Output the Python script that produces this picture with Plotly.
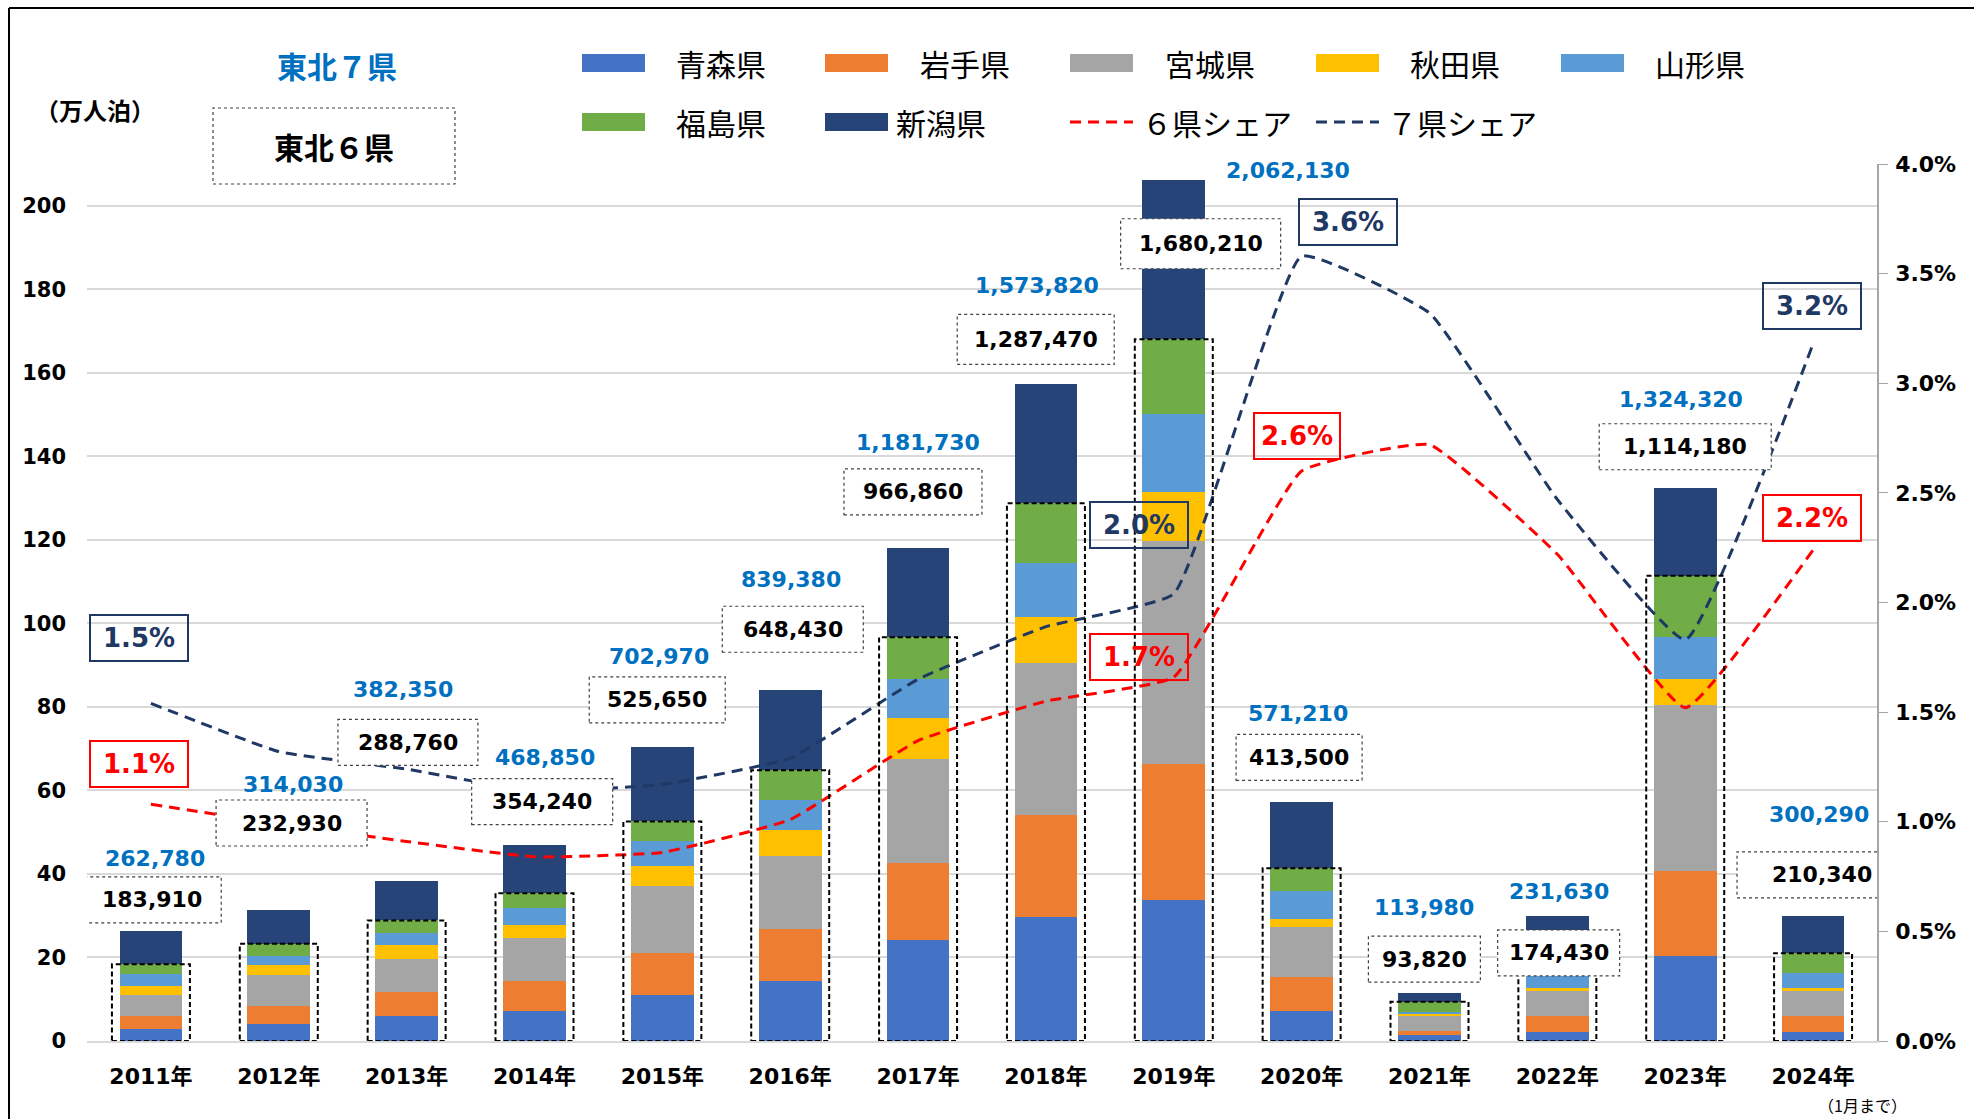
import plotly.graph_objects as go

# ---------------- data ----------------
years = ["2011年", "2012年", "2013年", "2014年", "2015年", "2016年", "2017年",
         "2018年", "2019年", "2020年", "2021年", "2022年", "2023年", "2024年"]

# 万人泊 by prefecture
aomori    = [2.9, 4.0, 6.0, 7.2, 11.1, 14.4, 24.3, 29.6, 33.8, 7.2, 1.35, 2.2, 20.3, 2.2]
iwate     = [3.2, 4.4, 5.7, 7.1, 9.9, 12.4, 18.3, 24.6, 32.5, 8.2, 0.95, 3.8, 20.3, 3.8]
miyagi    = [4.8, 7.4, 8.0, 10.4, 16.0, 17.6, 24.9, 36.4, 53.4, 11.9, 3.7, 6.0, 39.9, 6.0]
akita     = [2.2, 2.4, 3.2, 3.1, 5.0, 6.2, 9.8, 11.0, 11.8, 2.0, 0.4, 0.6, 6.2, 0.6]
yamagata  = [3.0, 2.2, 3.0, 4.0, 6.0, 7.1, 9.4, 12.9, 18.6, 6.7, 0.6, 3.6, 10.1, 3.7]
fukushima = [2.29, 2.9, 2.98, 3.6, 4.57, 7.14, 9.99, 14.25, 17.92, 5.35, 2.38, 1.24, 14.62, 4.73]
niigata   = [7.89, 8.1, 9.36, 11.46, 17.73, 19.1, 21.48, 28.64, 38.19, 15.77, 2.02, 12.46, 21.01, 9.0]

# labelled totals (人泊)
total7 = [262780, 314030, 382350, 468850, 702970, 839380, 1181730, 1573820,
          2062130, 571210, 113980, 231630, 1324320, 300290]
total6 = [183910, 232930, 288760, 354240, 525650, 648430, 966860, 1287470,
          1680210, 413500, 93820, 174430, 1114180, 210340]

# shares (%)
share6 = [1.08, 0.99, 0.91, 0.84, 0.86, 1.01, 1.37, 1.55, 1.66, 2.60, 2.72, 2.22, 1.52, 2.24]
share7 = [1.54, 1.32, 1.24, 1.14, 1.17, 1.29, 1.65, 1.89, 2.04, 3.58, 3.32, 2.47, 1.83, 3.18]

pref_names = ["青森県", "岩手県", "宮城県", "秋田県", "山形県", "福島県", "新潟県"]

# ---------------- styles / label placement ----------------
pref_colors = ["#4472C4", "#ED7D31", "#A5A5A5", "#FFC000", "#5B9BD5", "#70AD47", "#264478"]
NAVY = "#1F3864"
RED = "#FF0000"
BLUE_TXT = "#0070C0"
NUMFONT = "DejaVu Sans, Noto Sans CJK JP"
CJKFONT = "Noto Sans CJK JP, DejaVu Sans"

lab7_dx = [0.03, 0.11, -0.03, 0.08, -0.03, 0.01, 0.0, -0.07, 0.89, -0.03, -0.04, 0.01, -0.03, 0.05]
lab7_y = [43.7, 61.5, 84.1, 67.8, 92.0, 110.4, 143.2, 181.0, 208.4, 78.4, 32.0, 35.9, 153.5, 54.3]
lab6_dx = [0.01, 0.10, 0.01, 0.06, -0.04, 0.02, -0.04, -0.08, 0.21, -0.02, -0.04, 0.01, 0.0, 0.07]
lab6_y = [33.8, 52.2, 71.5, 57.3, 81.7, 98.6, 131.5, 168.0, 190.9, 67.9, 19.6, 21.1, 142.3, 39.8]
lab6_w = [138, 151, 140, 141, 136, 141, 138, 157, 160, 126, 112, 122, 172, 170]
lab6_h = [46, 46, 46, 46, 46, 46, 46, 50, 50, 46, 46, 46, 46, 46]

share_lab_idx = [0, 8, 9, 13]
share7_lab_dx = [-0.09, -0.27, 0.36, -0.01]
share7_lab_y = [0.01837, 0.02353, 0.03736, 0.03352]
share6_lab_dx = [-0.09, -0.27, -0.04, -0.01]
share6_lab_y = [0.01263, 0.01750, 0.02760, 0.02387]
share6_lab_w = [96, 96, 84, 96]

W, H = 1974, 1119
L, R, T, B = 87, 97, 164, 78
PW, PH = W - L - R, H - T - B


def xp(px):
    return (px - L) / PW


def yp(py):
    return (H - B - py) / PH


fig = go.Figure()

series = [aomori, iwate, miyagi, akita, yamagata, fukushima, niigata]
for name, vals, col in zip(pref_names, series, pref_colors):
    fig.add_trace(go.Bar(x=years, y=vals, name=name, marker=dict(color=col, line=dict(width=0)),
                         width=0.49, showlegend=False))

fig.add_trace(go.Scatter(x=years, y=[v / 100 for v in share6], yaxis="y2", mode="lines",
                         line=dict(color=RED, width=3, dash="11px,7px", shape="spline", smoothing=0.35),
                         name="６県シェア", showlegend=False))
fig.add_trace(go.Scatter(x=years, y=[v / 100 for v in share7], yaxis="y2", mode="lines",
                         line=dict(color=NAVY, width=3, dash="11px,7px", shape="spline", smoothing=0.35),
                         name="７県シェア", showlegend=False))

shapes = []
annotations = []

# dashed outline of 6-prefecture portion
six_sum = [a + b + c + d + e + f for a, b, c, d, e, f in zip(aomori, iwate, miyagi, akita, yamagata, fukushima)]
for i, s in enumerate(six_sum):
    shapes.append(dict(type="rect", xref="x", yref="y", x0=i - 0.305, x1=i + 0.305, y0=0, y1=s,
                       line=dict(color="black", width=2, dash="5px,3px"), fillcolor="rgba(0,0,0,0)",
                       layer="above"))

# boxed 6-pref labels
for i, v in enumerate(total6):
    cx = i + lab6_dx[i]
    shapes.append(dict(type="rect", xref="x", yref="y", xsizemode="pixel", ysizemode="pixel",
                       xanchor=cx, yanchor=lab6_y[i], x0=-lab6_w[i] / 2, x1=lab6_w[i] / 2,
                       y0=-lab6_h[i] / 2, y1=lab6_h[i] / 2, fillcolor="white",
                       line=dict(color="#404040", width=1.2, dash="dot"), layer="above"))
    annotations.append(dict(x=cx, y=lab6_y[i], xref="x", yref="y", text=f"{v:,}", showarrow=False,
                            xanchor="center", yanchor="middle",
                            font=dict(family=NUMFONT, size=22, color="black", weight="bold")))

# blue 7-pref totals
for i, v in enumerate(total7):
    annotations.append(dict(x=i + lab7_dx[i], y=lab7_y[i], xref="x", yref="y", text=f"{v:,}",
                            showarrow=False, xanchor="center", yanchor="middle",
                            font=dict(family=NUMFONT, size=22, color=BLUE_TXT, weight="bold")))

# share labels
for k, i in enumerate(share_lab_idx):
    annotations.append(dict(x=i + share7_lab_dx[k], y=share7_lab_y[k], xref="x", yref="y2",
                            text=f"{share7[i]:.1f}%", showarrow=False, bordercolor=NAVY, borderwidth=2,
                            borderpad=2, width=92, height=40, xanchor="center", yanchor="middle",
                            font=dict(family=NUMFONT, size=26, color=NAVY, weight="bold")))
    annotations.append(dict(x=i + share6_lab_dx[k], y=share6_lab_y[k], xref="x", yref="y2",
                            text=f"{share6[i]:.1f}%", showarrow=False, bordercolor=RED, borderwidth=2,
                            borderpad=2, width=share6_lab_w[k] - 4, height=40,
                            xanchor="center", yanchor="middle",
                            font=dict(family=NUMFONT, size=26, color=RED, weight="bold")))


def paper_text(px, py, text, size, color="black", bold=True, xanchor="center"):
    annotations.append(dict(x=xp(px), y=yp(py), xref="paper", yref="paper", text=text,
                            showarrow=False, xanchor=xanchor, yanchor="middle",
                            font=dict(family=CJKFONT, size=size, color=color,
                                      weight="bold" if bold else "normal")))


# titles
paper_text(337, 65, "東北７県", 30, BLUE_TXT)
shapes.append(dict(type="rect", xref="paper", yref="paper", x0=xp(213), x1=xp(455), y0=yp(184), y1=yp(108),
                   line=dict(color="#404040", width=1.2, dash="dot"), fillcolor="white"))
paper_text(334, 146, "東北６県", 30)
paper_text(95, 109, "（万人泊）", 24)
paper_text(1862, 1105, "（1月まで）", 16, bold=False)

# legend (manual)
leg_rows = [63, 122]
leg_items = [
    ("rect", pref_colors[0], pref_names[0], 0, 582, 674),
    ("rect", pref_colors[1], pref_names[1], 0, 825, 918),
    ("rect", pref_colors[2], pref_names[2], 0, 1070, 1163),
    ("rect", pref_colors[3], pref_names[3], 0, 1316, 1408),
    ("rect", pref_colors[4], pref_names[4], 0, 1561, 1653),
    ("rect", pref_colors[5], pref_names[5], 1, 582, 674),
    ("rect", pref_colors[6], pref_names[6], 1, 825, 894),
    ("line", RED, "６県シェア", 1, 1070, 1140),
    ("line", NAVY, "７県シェア", 1, 1316, 1385),
]
for kind, col, label, row, sx, tx in leg_items:
    yc = leg_rows[row]
    if kind == "rect":
        shapes.append(dict(type="rect", xref="paper", yref="paper", x0=xp(sx), x1=xp(sx + 63),
                           y0=yp(yc + 9), y1=yp(yc - 9), fillcolor=col, line=dict(width=0)))
    else:
        shapes.append(dict(type="line", xref="paper", yref="paper", x0=xp(sx), x1=xp(sx + 63),
                           y0=yp(yc), y1=yp(yc), line=dict(color=col, width=3, dash="11px,7px")))
    paper_text(tx, yc, label, 30, bold=False, xanchor="left")

# outer frame (top and left border)
shapes.append(dict(type="line", xref="paper", yref="paper", x0=xp(9), x1=xp(W + 5), y0=yp(8), y1=yp(8),
                   line=dict(color="black", width=2)))
shapes.append(dict(type="line", xref="paper", yref="paper", x0=xp(9), x1=xp(9), y0=yp(8), y1=yp(H + 5),
                   line=dict(color="black", width=2)))

fig.update_layout(
    width=W, height=H,
    margin=dict(l=L, r=R, t=T, b=B, autoexpand=False),
    barmode="stack",
    plot_bgcolor="white", paper_bgcolor="white",
    showlegend=False,
    font=dict(family=NUMFONT),
    shapes=shapes,
    annotations=annotations,
    xaxis=dict(type="category", range=[-0.5, len(years) - 0.5], autorange=False,
               showgrid=False, showline=True, linecolor="#D9D9D9", linewidth=1.5,
               ticks="", ticklabelstandoff=15, automargin=False,
               tickfont=dict(family=NUMFONT, size=22, color="black", weight="bold")),
    yaxis=dict(range=[0, 210], autorange=False, tickvals=list(range(0, 201, 20)), showgrid=True,
               gridcolor="#D9D9D9", gridwidth=1.5, zeroline=False, showline=False, ticks="",
               ticklabelstandoff=20, automargin=False,
               tickfont=dict(family=NUMFONT, size=21, color="black", weight="bold")),
    yaxis2=dict(range=[0, 0.04], autorange=False, tickvals=[k * 0.005 for k in range(9)],
                tickformat=".1%", overlaying="y", side="right", showgrid=False, zeroline=False,
                showline=True, linecolor="#A6A6A6", linewidth=1.5, ticks="outside", ticklen=9,
                tickcolor="#A6A6A6", ticklabelstandoff=3, automargin=False,
                tickfont=dict(family=NUMFONT, size=22, color="black", weight="bold")),
)

fig.write_html("out.html", config={"displayModeBar": False},
               post_script="document.body.style.margin='0px';document.body.style.overflow='hidden';")
